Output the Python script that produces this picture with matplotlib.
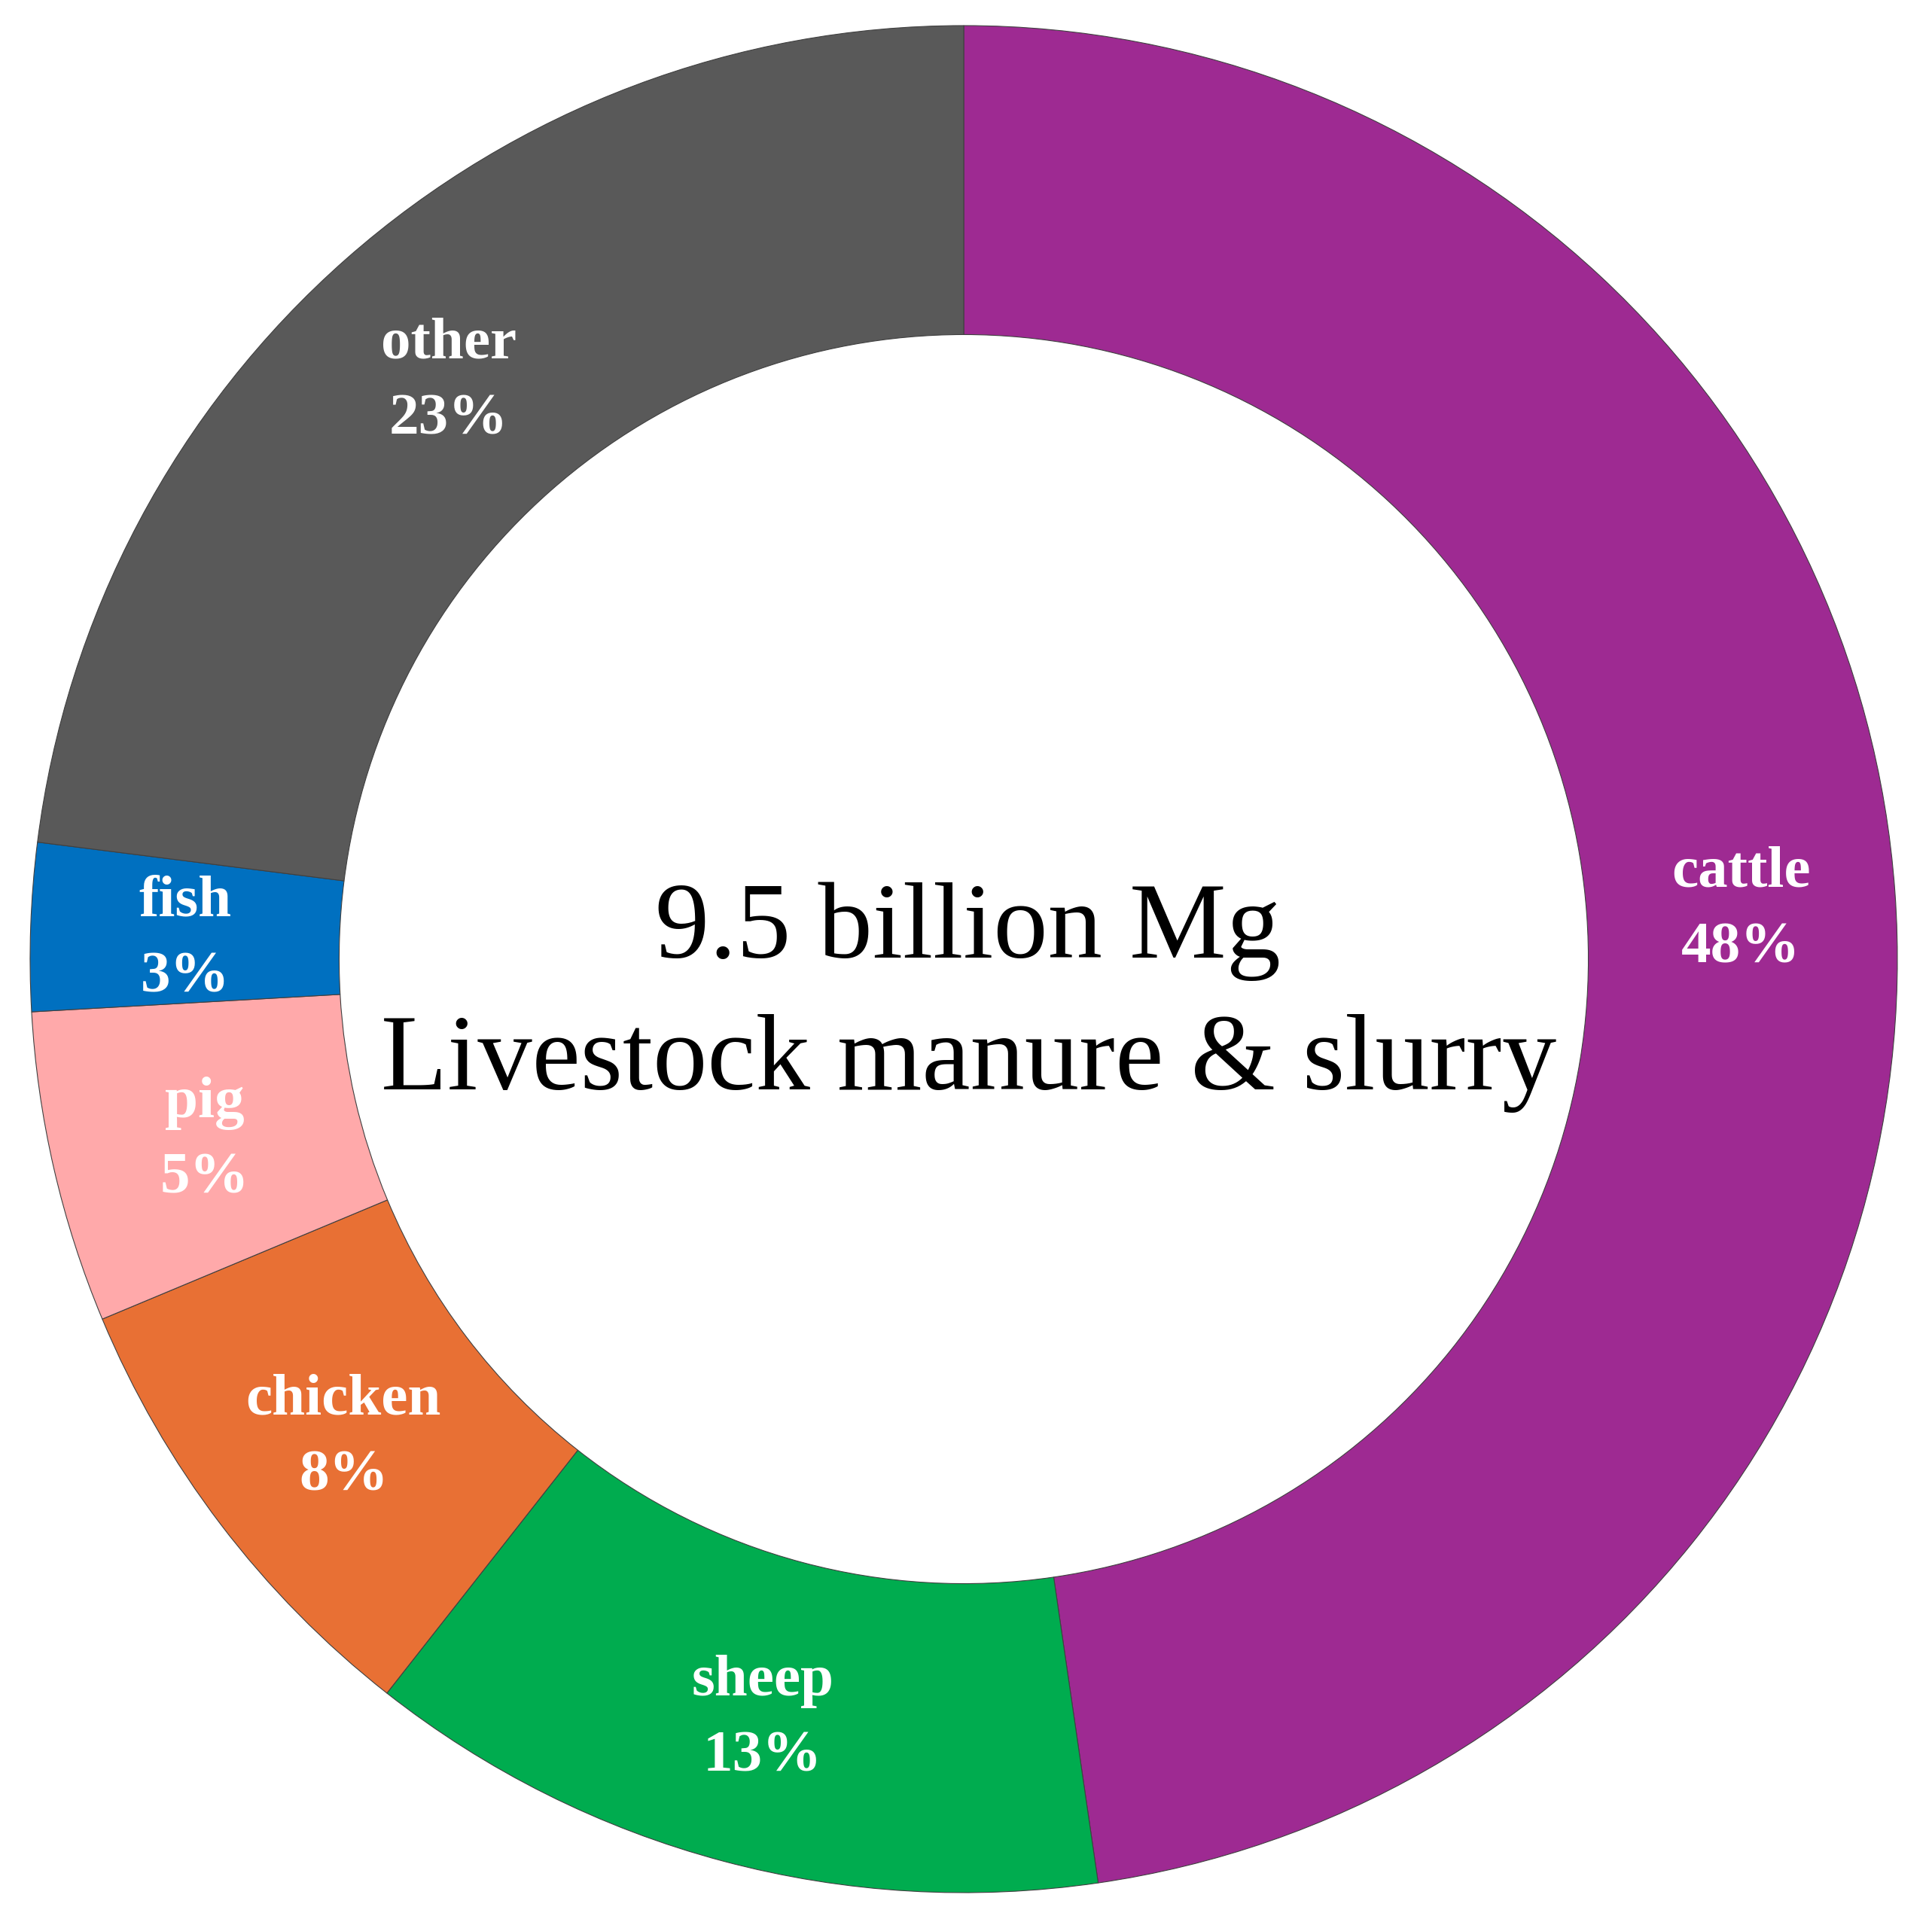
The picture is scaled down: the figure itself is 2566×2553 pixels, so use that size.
import numpy as np
import matplotlib
matplotlib.use("Agg")
import matplotlib.pyplot as plt

# shares of livestock manure & slurry (clockwise from 12 o'clock)
categories = ["cattle", "sheep", "chicken", "pig", "fish", "other"]
shares = [47.7, 12.9, 8.1, 5.4, 2.9, 23.0]
colors = ["#9E2A92", "#00AC4F", "#E87034", "#FFA9AA", "#0070C0", "#595959"]
center_title = "9.5 billion Mg"
center_subtitle = "Livestock manure & slurry"

plt.rcParams["font.family"] = ["Liberation Serif", "DejaVu Serif"]

W, H = 2566, 2553
fig = plt.figure(figsize=(W / 100, H / 100), dpi=100)
ax = fig.add_axes([0, 0, 1, 1])

cx, cy = 1280, H - 1274
R = 1240
ring = 0.331

wedges, _ = ax.pie(
    shares,
    colors=colors,
    startangle=90,
    counterclock=False,
    center=(cx, cy),
    radius=R,
    wedgeprops=dict(width=R * ring, edgecolor="#404040", linewidth=0.8),
    frame=True,
)
ax.set_xlim(0, W)
ax.set_ylim(0, H)
ax.set_aspect("equal")
ax.axis("off")

total = sum(shares)
r_lab = R * (1 - ring / 2)
for w, name, val in zip(wedges, categories, shares):
    mid = np.deg2rad((w.theta1 + w.theta2) / 2)
    ax.text(cx + r_lab * np.cos(mid), cy + r_lab * np.sin(mid) - 10,
            f"{name}\n{round(val / total * 100):.0f}%",
            ha="center", va="center", color="white", fontsize=57,
            fontweight="bold", linespacing=1.55)

# centre caption
ax.text(cx + 5, H - 1272, center_title, ha="center", va="baseline",
        fontsize=104, color="black")
ax.text(cx + 7, H - 1447, center_subtitle, ha="center", va="baseline",
        fontsize=104, color="black")

fig.savefig("out.png", dpi=100, facecolor="white")
